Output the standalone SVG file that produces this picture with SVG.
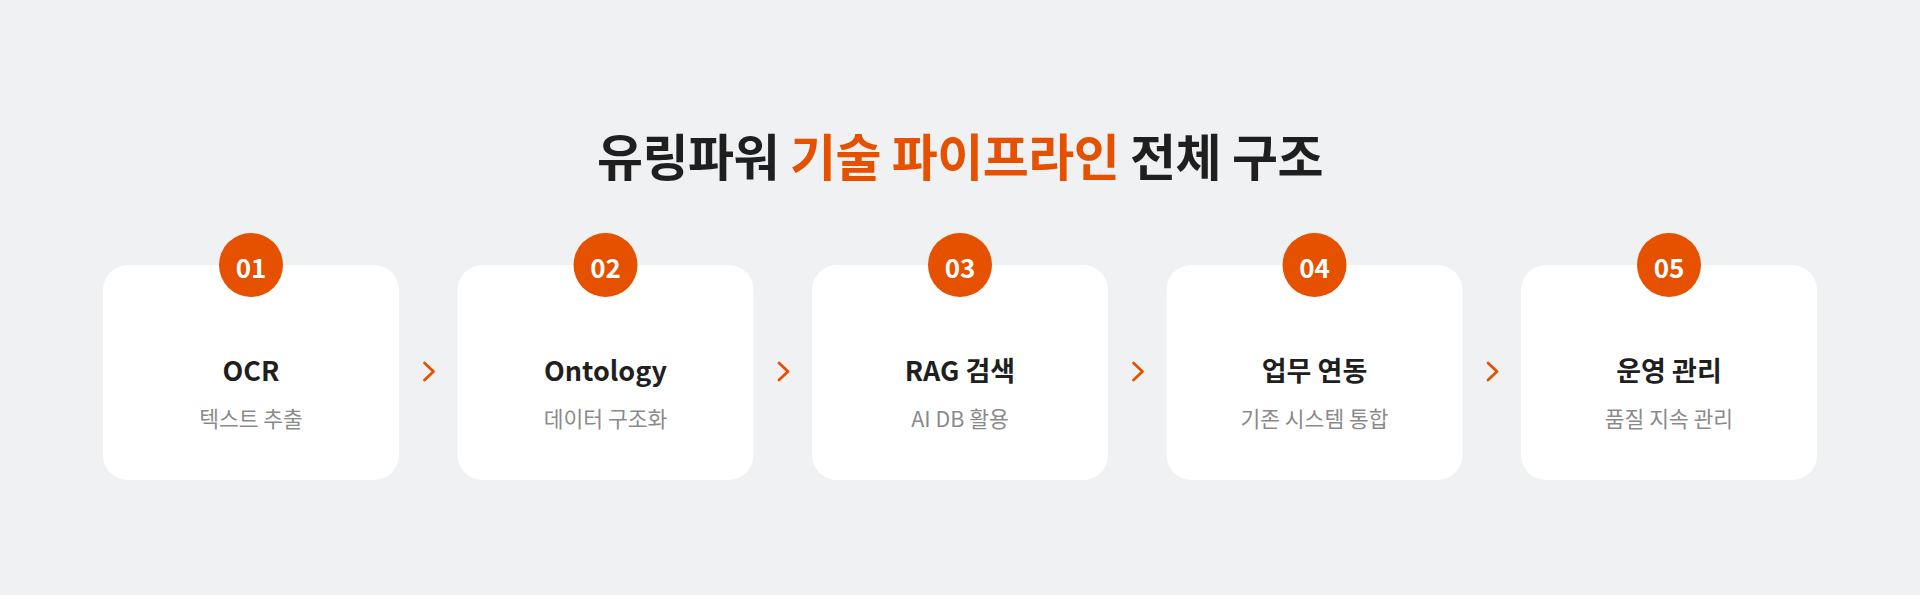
<svg xmlns="http://www.w3.org/2000/svg" width="1920" height="595" viewBox="0 0 1920 595">
<style>
.t{font-family:"Noto Sans CJK KR","Noto Sans",sans-serif;text-anchor:middle}
.title{font-size:50px;font-weight:700;fill:#1f1f1f;letter-spacing:-0.5px}
.accent{fill:#e65100}
.card{fill:#ffffff}
.badge{fill:#e65100}
.num{font-size:26px;font-weight:700;fill:#ffffff}
.name{font-size:27px;font-weight:700;fill:#1f1f1f}
.desc{font-size:21.5px;font-weight:400;fill:#8a8a8a}
.chev{fill:none;stroke:#e65100;stroke-width:2.8;stroke-linecap:round;stroke-linejoin:round}
</style>
<rect width="1920" height="595" fill="#f0f1f3"/>
<text class="t title" x="960" y="176">유링파워 <tspan class="accent">기술 파이프라인</tspan> 전체 구조</text>
<g id="connectors">
<path class="chev" d="M424.5 363 L433.5 371.5 L424.5 380"/>
<path class="chev" d="M779 363 L788 371.5 L779 380"/>
<path class="chev" d="M1133.5 363 L1142.5 371.5 L1133.5 380"/>
<path class="chev" d="M1488 363 L1497 371.5 L1488 380"/>
</g>
<g id="node1">
<rect class="card" x="103" y="265" width="296" height="215" rx="25"/>
<circle class="badge" cx="251" cy="265" r="32"/>
<text class="t num" x="251" y="278">01</text>
<text class="t name" x="251" y="381">OCR</text>
<text class="t desc" x="251" y="427">텍스트 추출</text>
</g>
<g id="node2">
<rect class="card" x="457.5" y="265" width="296" height="215" rx="25"/>
<circle class="badge" cx="605.5" cy="265" r="32"/>
<text class="t num" x="605.5" y="278">02</text>
<text class="t name" x="605.5" y="381">Ontology</text>
<text class="t desc" x="605.5" y="427">데이터 구조화</text>
</g>
<g id="node3">
<rect class="card" x="812" y="265" width="296" height="215" rx="25"/>
<circle class="badge" cx="960" cy="265" r="32"/>
<text class="t num" x="960" y="278">03</text>
<text class="t name" x="960" y="381">RAG 검색</text>
<text class="t desc" x="960" y="427">AI DB 활용</text>
</g>
<g id="node4">
<rect class="card" x="1166.5" y="265" width="296" height="215" rx="25"/>
<circle class="badge" cx="1314.5" cy="265" r="32"/>
<text class="t num" x="1314.5" y="278">04</text>
<text class="t name" x="1314.5" y="381">업무 연동</text>
<text class="t desc" x="1314.5" y="427">기존 시스템 통합</text>
</g>
<g id="node5">
<rect class="card" x="1521" y="265" width="296" height="215" rx="25"/>
<circle class="badge" cx="1669" cy="265" r="32"/>
<text class="t num" x="1669" y="278">05</text>
<text class="t name" x="1669" y="381">운영 관리</text>
<text class="t desc" x="1669" y="427">품질 지속 관리</text>
</g>
</svg>
